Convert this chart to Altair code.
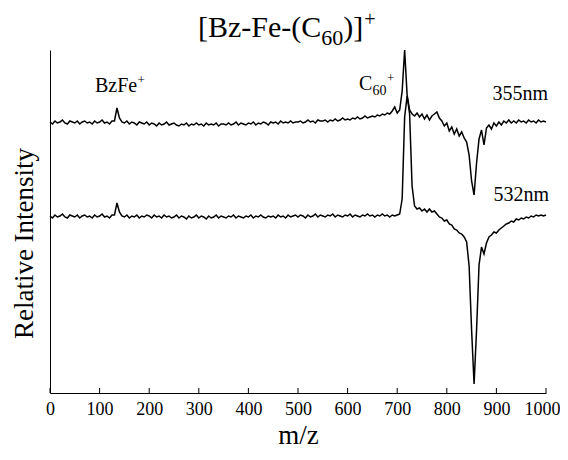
import altair as alt
import pandas as pd

# ---------------- data ----------------
mz_step = 5
mz = list(range(0, 1001, mz_step))

# 355 nm trace (relative intensity, arbitrary units)
s355 = [
    271, 269, 272, 270, 271, 273, 270, 269, 272, 271,
    270, 272, 269, 271, 272, 270, 271, 269, 272, 270,
    271, 273, 270, 271, 269, 272,
    272, 285, 275, 271,
    270, 272, 269, 271, 270, 268, 271, 270, 269, 271,
    268, 270, 269, 267, 270, 268, 269, 271, 268, 269,
    270, 268, 267, 269, 268, 270, 267, 269, 268, 270,
    268, 269, 267, 270, 268, 269, 268, 270, 267, 269,
    269, 268, 270, 268, 269, 271, 268, 270, 269, 268,
    270, 269, 271, 268, 270, 269, 271, 270, 268, 271,
    270, 271, 269, 272, 270, 271, 270, 272, 270, 271,
    271, 272, 270, 271, 273, 271, 272, 270, 273, 272,
    272, 273, 271, 273, 272, 274, 272, 273, 275, 273,
    274, 273, 275, 274, 276, 274, 275, 277, 275, 276,
    277, 276, 278, 277, 279, 278, 280, 279, 282, 286,
    280, 283, 302, 343, 298, 283, 279, 277,
    280, 276, 279, 274, 278, 273, 277, 279, 281, 275,
    272, 267, 270, 262, 266, 259, 264, 257, 261, 255,
    251, 238, 212, 198, 230, 254, 263, 248, 265, 268,
    264, 270, 267, 271, 268, 272, 270, 273, 270, 272,
    270, 273, 271, 272, 270, 273, 271, 272, 270, 273,
    271, 272, 271,
]

# 532 nm trace (relative intensity, arbitrary units)
s532 = [
    177, 175, 178, 176, 177, 179, 176, 175, 178, 177,
    176, 178, 175, 177, 178, 176, 177, 175, 178, 176,
    177, 179, 176, 177, 175, 178,
    178, 190, 181, 177,
    176, 178, 175, 177, 176, 178, 175, 177, 176, 178,
    177, 175, 178, 176, 177, 175, 178, 176, 177, 175,
    176, 178, 175, 177, 176, 174, 177, 175, 176, 178,
    175, 177, 176, 174, 177, 175, 176, 178, 175, 177,
    176, 175, 177, 176, 178, 175, 177, 176, 175, 177,
    176, 178, 175, 177, 176, 178, 176, 175, 177, 176,
    177, 175, 178, 176, 177, 175, 178, 176, 177, 178,
    176, 178, 177, 175, 178, 176, 177, 179, 176, 178,
    177, 176, 178, 177, 179, 176, 178, 177, 176, 178,
    177, 179, 176, 178, 177, 176, 178, 177, 179, 177,
    178, 176, 178, 177, 179, 177, 178, 176, 178, 177,
    178, 179, 194, 276, 297, 279, 207, 187,
    184, 185, 182, 184, 181, 184, 181, 182, 179, 176,
    175, 172, 173, 169, 168, 164, 163, 160, 159, 156,
    151, 127, 63, 9, 63, 128, 146, 139, 150, 156,
    158, 161, 160, 163, 165, 167, 169, 170, 172, 171,
    174, 173, 175, 174, 176, 175, 177, 176, 178, 177,
    178, 177, 178,
]

trace_names = ["355nm", "532nm"]
x_ticks = [0, 100, 200, 300, 400, 500, 600, 700, 800, 900, 1000]

title_parts = ["[Bz-Fe-(C", "60", ")]", "+"]

df = pd.DataFrame({
    "mz": mz + mz,
    "intensity": s355 + s532,
    "trace": [trace_names[0]] * len(mz) + [trace_names[1]] * len(mz),
})
tick_df = pd.DataFrame({"mz": x_ticks})

FONT = "Liberation Serif"

xscale = alt.Scale(domain=[0, 1000], nice=False, zero=False)
yscale = alt.Scale(domain=[0, 343], nice=False, zero=False)

lines = alt.Chart(df).mark_line(color="black", strokeWidth=1.5).encode(
    x=alt.X("mz:Q", scale=xscale, title="m/z",
            axis=alt.Axis(values=x_ticks, format="d", ticks=False, grid=False,
                          labelFlush=False, labelOverlap=False, labelFont=FONT,
                          labelFontSize=18, labelColor="black", labelPadding=7,
                          labelOffset={"condition": {"test": "datum.value === 1000", "value": -4},
                                       "value": 0},
                          domainColor="black", titleFont=FONT, titleFontSize=27,
                          titleFontWeight="normal", titleColor="black", titlePadding=4)),
    y=alt.Y("intensity:Q", scale=yscale, title="Relative Intensity",
            axis=alt.Axis(labels=False, ticks=False, grid=False, domainColor="black",
                          titleFont=FONT, titleFontSize=27, titleFontWeight="normal",
                          titleColor="black", titleX=-18, titleY=193,
                          titleBaseline="alphabetic", titleAlign="center")),
    detail="trace:N",
)

ticks = alt.Chart(tick_df).mark_rule(color="black", strokeWidth=1).encode(
    x=alt.X("mz:Q", scale=xscale),
    y=alt.YDatum(0),
    y2=alt.Y2Datum(5),
)


def txt(s, x, y, size, align="left"):
    return alt.Chart(pd.DataFrame({"t": [s]})).mark_text(
        align=align, baseline="alphabetic", font=FONT, fontSize=size, color="black"
    ).encode(text="t:N", x=alt.value(x), y=alt.value(y))


# title: main, subscript and superscript parts
tx0 = 148
f_main, f_sub, f_sup = 30, 22, 20
w_main = 4.11 * f_main
w_sub = 1.0 * f_sub
w_close = 0.666 * f_main

texts = [
    # title
    txt(title_parts[0], tx0, -13, f_main),
    txt(title_parts[1], tx0 + w_main, -5, f_sub),
    txt(title_parts[2], tx0 + w_main + w_sub, -13, f_main),
    txt(title_parts[3], tx0 + w_main + w_sub + w_close + 1, -24, f_sup),
    # BzFe+
    txt("BzFe", 45, 42, 20),
    txt("+", 87.5, 34, 13),
    # C60+
    txt("C", 309, 40, 20),
    txt("60", 322.5, 45, 14),
    txt("+", 337, 32, 13),
    # wavelength labels
    txt(trace_names[0], 498, 50, 20, "right"),
    txt(trace_names[1], 499, 151, 20, "right"),
]

chart = alt.layer(lines, ticks, *texts).properties(
    width=496, height=343,
    autosize=alt.AutoSizeParams(type="none"),
    padding={"left": 42, "top": 42, "right": 14, "bottom": 59},
    background="white",
).configure_view(stroke=None)

chart.save("out.html", embed_options={"renderer": "svg", "actions": False})
